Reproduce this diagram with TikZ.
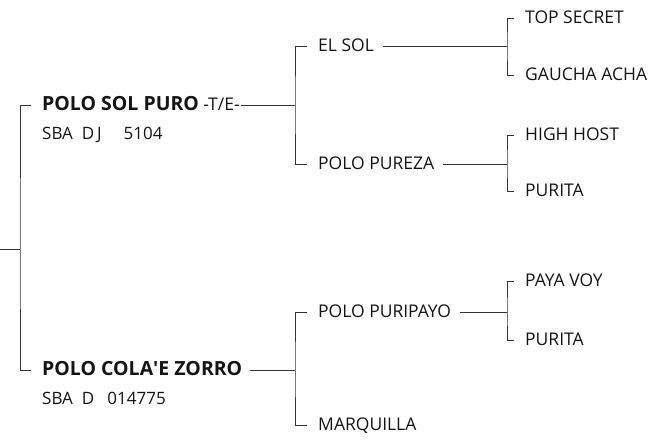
\documentclass[tikz,border=0pt]{standalone}
\usepackage{fontspec}
\setmainfont{Open Sans}
\newcommand{\sirefont}{\fontsize{19.5}{22}\selectfont\bfseries}
\begin{document}
\begin{tikzpicture}[x=1pt,y=-1pt]
        \tikzset{horse/.style={anchor=west, inner sep=0pt, text height=2ex, text depth=0pt, font=\fontsize{17.5}{20}\selectfont, text=black!92}}
        \tikzset{sire/.style={horse, font=\fontsize{17}{20}\selectfont}}
        \tikzset{branch/.style={draw=black!80, line width=0.9pt}}
        \useasboundingbox (0,0) rectangle (658,439);

        \node[sire] (solpuro) at (42,105) {{\sirefont POLO SOL PURO} \fontsize{17.5}{20}\selectfont -T/E-};
        \node[sire] (solreg) at (42,134) {SBA\ \ D\,J\ \ \ \ \ 5104};
        \node[sire] (zorro) at (42,370) {\sirefont POLO COLA\textquotesingle E ZORRO};
        \node[sire] (zorroreg) at (42,399) {SBA\ \ D\ \ \ 014775};

        \node[horse] (elsol) at (318,46) {EL SOL};
        \node[horse] (pureza) at (318,164) {POLO PUREZA};
        \node[horse] (puripayo) at (318,312) {POLO PURIPAYO};
        \node[horse] (marquilla) at (318,425) {MARQUILLA};

        \node[horse] (topsecret) at (525,18) {TOP SECRET};
        \node[horse] (gaucha) at (525,75) {GAUCHA ACHA};
        \node[horse] (highhost) at (525,135) {HIGH HOST};
        \node[horse] (purita) at (525,191) {PURITA};
        \node[horse] (payavoy) at (525,281) {PAYA VOY};
        \node[horse] (puritb) at (525,340) {PURITA};

        \coordinate (root) at (0,249);
        \coordinate (k0) at (20,249);
        \coordinate (k1) at (295,105);
        \coordinate (k2) at (295,370);
        \coordinate (k3) at (507,46);
        \coordinate (k4) at (507,164);
        \coordinate (k5) at (507,312);

        \draw[branch] (root) -- (k0);
        \draw[branch] ([xshift=-11pt]solpuro.west) -| (k0) |- ([xshift=-11pt]zorro.west);

        \draw[branch] ([xshift=1pt]solpuro.east) -- (k1);
        \draw[branch] ([xshift=8pt]zorro.east) -- (k2);
        \draw[branch] ([xshift=-11pt]elsol.west) -| (k1) |- ([xshift=-11pt]pureza.west);
        \draw[branch] ([xshift=-11pt]puripayo.west) -| (k2) |- ([xshift=-11pt]marquilla.west);

        \draw[branch] ([xshift=9pt]elsol.east) -- (k3);
        \draw[branch] ([xshift=9pt]pureza.east) -- (k4);
        \draw[branch] ([xshift=9pt]puripayo.east) -- (k5);
        \draw[branch] ([xshift=-11pt]topsecret.west) -| (k3) |- ([xshift=-11pt]gaucha.west);
        \draw[branch] ([xshift=-11pt]highhost.west) -| (k4) |- ([xshift=-11pt]purita.west);
        \draw[branch] ([xshift=-11pt]payavoy.west) -| (k5) |- ([xshift=-11pt]puritb.west);
\end{tikzpicture}
\end{document}
